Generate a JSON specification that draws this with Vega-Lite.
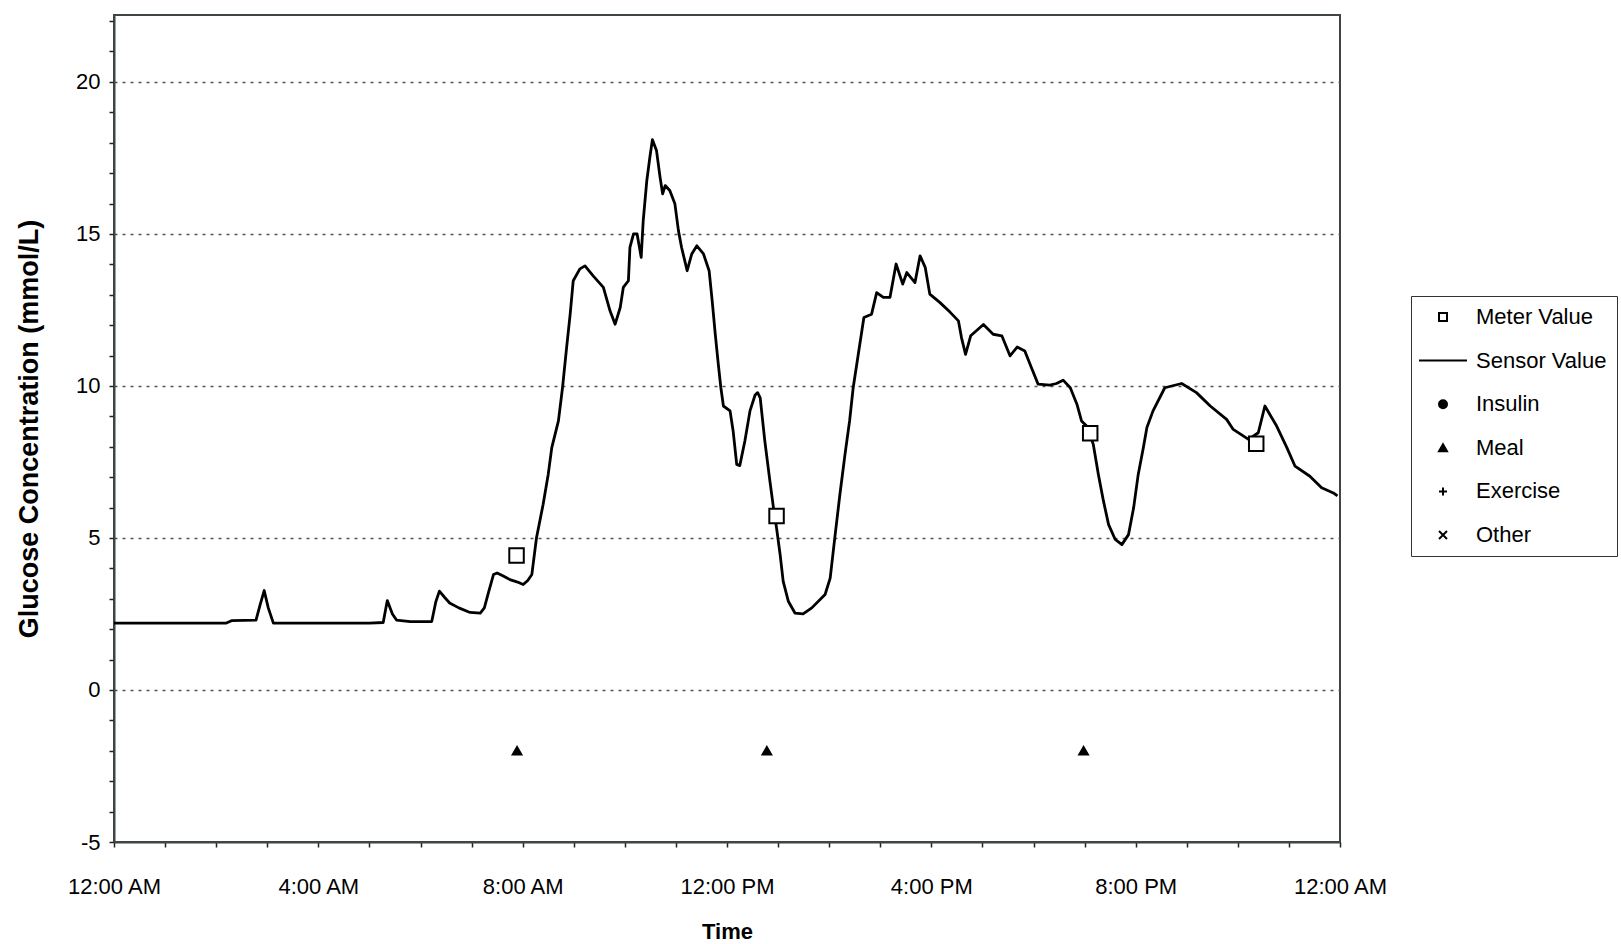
{
  "$schema": "https://vega.github.io/schema/vega-lite/v6.json",
  "width": 1226,
  "height": 827,
  "autosize": "none",
  "padding": {"left": 114, "top": 15, "right": 281, "bottom": 102},
  "background": "white",
  "config": {
    "font": "Liberation Sans",
    "view": {"stroke": "#3f453f", "strokeWidth": 2, "fill": "white"},
    "axis": {
      "labelFont": "Liberation Sans",
      "titleFont": "Liberation Sans",
      "labelColor": "black",
      "titleColor": "black",
      "domainColor": "#3f453f",
      "domainWidth": 2,
      "tickColor": "#222222",
      "tickWidth": 1.5
    }
  },
  "datasets": {
    "sensor": [
      {"hour": 0, "glucose": 2.2}, {"hour": 1.0, "glucose": 2.2}, {"hour": 2.2, "glucose": 2.2},
      {"hour": 2.3, "glucose": 2.28}, {"hour": 2.78, "glucose": 2.3}, {"hour": 2.86, "glucose": 2.8},
      {"hour": 2.94, "glucose": 3.27}, {"hour": 3.02, "glucose": 2.7}, {"hour": 3.12, "glucose": 2.2},
      {"hour": 4.0, "glucose": 2.2}, {"hour": 5.0, "glucose": 2.2}, {"hour": 5.27, "glucose": 2.22},
      {"hour": 5.35, "glucose": 2.94}, {"hour": 5.45, "glucose": 2.5}, {"hour": 5.53, "glucose": 2.3},
      {"hour": 5.8, "glucose": 2.25}, {"hour": 6.22, "glucose": 2.25}, {"hour": 6.3, "glucose": 2.9},
      {"hour": 6.37, "glucose": 3.25}, {"hour": 6.47, "glucose": 3.05}, {"hour": 6.57, "glucose": 2.86},
      {"hour": 6.75, "glucose": 2.7}, {"hour": 6.97, "glucose": 2.55}, {"hour": 7.17, "glucose": 2.53},
      {"hour": 7.25, "glucose": 2.7}, {"hour": 7.33, "glucose": 3.2}, {"hour": 7.43, "glucose": 3.8},
      {"hour": 7.5, "glucose": 3.85}, {"hour": 7.62, "glucose": 3.75}, {"hour": 7.75, "glucose": 3.63},
      {"hour": 7.9, "glucose": 3.55}, {"hour": 8.01, "glucose": 3.47}, {"hour": 8.1, "glucose": 3.6},
      {"hour": 8.18, "glucose": 3.8}, {"hour": 8.27, "glucose": 5.0}, {"hour": 8.4, "glucose": 6.1},
      {"hour": 8.5, "glucose": 7.09}, {"hour": 8.57, "glucose": 7.97}, {"hour": 8.7, "glucose": 8.85},
      {"hour": 8.78, "glucose": 9.94}, {"hour": 8.86, "glucose": 11.26}, {"hour": 8.93, "glucose": 12.36},
      {"hour": 8.99, "glucose": 13.46}, {"hour": 9.12, "glucose": 13.85}, {"hour": 9.22, "glucose": 13.95},
      {"hour": 9.38, "glucose": 13.62}, {"hour": 9.58, "glucose": 13.24}, {"hour": 9.71, "glucose": 12.47},
      {"hour": 9.81, "glucose": 12.03}, {"hour": 9.91, "glucose": 12.58}, {"hour": 9.97, "glucose": 13.24},
      {"hour": 10.07, "glucose": 13.46}, {"hour": 10.1, "glucose": 14.56}, {"hour": 10.17, "glucose": 15.0},
      {"hour": 10.24, "glucose": 15.0}, {"hour": 10.32, "glucose": 14.23}, {"hour": 10.36, "glucose": 15.44},
      {"hour": 10.43, "glucose": 16.75}, {"hour": 10.49, "glucose": 17.52}, {"hour": 10.54, "glucose": 18.1},
      {"hour": 10.62, "glucose": 17.74}, {"hour": 10.69, "glucose": 16.86}, {"hour": 10.74, "glucose": 16.32},
      {"hour": 10.79, "glucose": 16.59}, {"hour": 10.88, "glucose": 16.43}, {"hour": 10.98, "glucose": 15.99},
      {"hour": 11.05, "glucose": 15.1}, {"hour": 11.11, "glucose": 14.56}, {"hour": 11.22, "glucose": 13.79},
      {"hour": 11.31, "glucose": 14.34}, {"hour": 11.41, "glucose": 14.61}, {"hour": 11.54, "glucose": 14.34},
      {"hour": 11.65, "glucose": 13.79}, {"hour": 11.71, "glucose": 12.8}, {"hour": 11.77, "glucose": 11.7},
      {"hour": 11.83, "glucose": 10.71}, {"hour": 11.88, "glucose": 9.94}, {"hour": 11.93, "glucose": 9.34},
      {"hour": 12.06, "glucose": 9.18}, {"hour": 12.12, "glucose": 8.52}, {"hour": 12.19, "glucose": 7.42},
      {"hour": 12.25, "glucose": 7.38}, {"hour": 12.35, "glucose": 8.19}, {"hour": 12.45, "glucose": 9.18},
      {"hour": 12.55, "glucose": 9.7}, {"hour": 12.6, "glucose": 9.78}, {"hour": 12.65, "glucose": 9.61},
      {"hour": 12.74, "glucose": 8.19}, {"hour": 12.84, "glucose": 6.87}, {"hour": 12.91, "glucose": 5.99},
      {"hour": 12.97, "glucose": 5.33}, {"hour": 13.04, "glucose": 4.45}, {"hour": 13.1, "glucose": 3.57},
      {"hour": 13.2, "glucose": 2.92}, {"hour": 13.33, "glucose": 2.53}, {"hour": 13.49, "glucose": 2.5},
      {"hour": 13.66, "glucose": 2.7}, {"hour": 13.92, "glucose": 3.14}, {"hour": 14.02, "glucose": 3.68},
      {"hour": 14.11, "glucose": 5.0}, {"hour": 14.21, "glucose": 6.43}, {"hour": 14.31, "glucose": 7.75},
      {"hour": 14.4, "glucose": 8.85}, {"hour": 14.47, "glucose": 9.94}, {"hour": 14.57, "glucose": 11.04},
      {"hour": 14.68, "glucose": 12.25}, {"hour": 14.83, "glucose": 12.36}, {"hour": 14.93, "glucose": 13.07},
      {"hour": 15.06, "glucose": 12.91}, {"hour": 15.19, "glucose": 12.91}, {"hour": 15.31, "glucose": 14.01},
      {"hour": 15.44, "glucose": 13.35}, {"hour": 15.52, "glucose": 13.73}, {"hour": 15.68, "glucose": 13.4},
      {"hour": 15.78, "glucose": 14.28}, {"hour": 15.88, "glucose": 13.9}, {"hour": 15.97, "glucose": 13.02},
      {"hour": 16.17, "glucose": 12.74}, {"hour": 16.37, "glucose": 12.42}, {"hour": 16.53, "glucose": 12.14},
      {"hour": 16.59, "glucose": 11.59}, {"hour": 16.67, "glucose": 11.04}, {"hour": 16.77, "glucose": 11.65},
      {"hour": 17.02, "glucose": 12.02}, {"hour": 17.21, "glucose": 11.7}, {"hour": 17.38, "glucose": 11.65},
      {"hour": 17.54, "glucose": 10.99}, {"hour": 17.68, "glucose": 11.28}, {"hour": 17.83, "glucose": 11.15},
      {"hour": 17.96, "glucose": 10.6}, {"hour": 18.09, "glucose": 10.06}, {"hour": 18.32, "glucose": 10.03},
      {"hour": 18.45, "glucose": 10.08}, {"hour": 18.58, "glucose": 10.19}, {"hour": 18.72, "glucose": 9.94},
      {"hour": 18.85, "glucose": 9.4}, {"hour": 18.94, "glucose": 8.85}, {"hour": 19.04, "glucose": 8.68},
      {"hour": 19.17, "glucose": 8.08}, {"hour": 19.27, "glucose": 7.09}, {"hour": 19.37, "glucose": 6.21},
      {"hour": 19.47, "glucose": 5.44}, {"hour": 19.6, "glucose": 4.95}, {"hour": 19.73, "glucose": 4.78},
      {"hour": 19.86, "glucose": 5.11}, {"hour": 19.96, "glucose": 5.99}, {"hour": 20.05, "glucose": 7.09},
      {"hour": 20.15, "glucose": 7.97}, {"hour": 20.22, "glucose": 8.63}, {"hour": 20.34, "glucose": 9.18},
      {"hour": 20.57, "glucose": 9.94}, {"hour": 20.9, "glucose": 10.08}, {"hour": 21.19, "glucose": 9.78},
      {"hour": 21.46, "glucose": 9.34}, {"hour": 21.78, "glucose": 8.9}, {"hour": 21.91, "glucose": 8.57},
      {"hour": 22.21, "glucose": 8.24}, {"hour": 22.4, "glucose": 8.46}, {"hour": 22.53, "glucose": 9.34},
      {"hour": 22.76, "glucose": 8.68}, {"hour": 22.96, "glucose": 7.97}, {"hour": 23.12, "glucose": 7.36},
      {"hour": 23.41, "glucose": 7.03}, {"hour": 23.64, "glucose": 6.65}, {"hour": 23.87, "glucose": 6.48},
      {"hour": 23.95, "glucose": 6.38}
    ],
    "events": [
      {"hour": 7.88, "glucose": 4.42, "type": "Meter Value"},
      {"hour": 12.97, "glucose": 5.72, "type": "Meter Value"},
      {"hour": 19.11, "glucose": 8.44, "type": "Meter Value"},
      {"hour": 22.36, "glucose": 8.1, "type": "Meter Value"},
      {"hour": 7.89, "glucose": -2, "type": "Meal"},
      {"hour": 12.78, "glucose": -2, "type": "Meal"},
      {"hour": 18.98, "glucose": -2, "type": "Meal"}
    ]
  },
  "encoding": {
    "x": {
      "field": "hour", "type": "quantitative",
      "scale": {"domain": [0, 24], "nice": false, "zero": false},
      "axis": {
        "title": "Time",
        "titleFontSize": 22,
        "titleFontWeight": "bold",
        "titlePadding": 24,
        "values": [0,1,2,3,4,5,6,7,8,9,10,11,12,13,14,15,16,17,18,19,20,21,22,23,24],
        "labelExpr": "datum.value % 4 !== 0 ? '' : (datum.value % 24 === 0 ? '12:00 AM' : (datum.value === 12 ? '12:00 PM' : (datum.value < 12 ? datum.value + ':00 AM' : (datum.value - 12) + ':00 PM')))",
        "labelFontSize": 22,
        "labelPadding": 29,
        "labelOverlap": false,
        "labelFlush": false,
        "tickSize": 5,
        "grid": false
      }
    },
    "y": {
      "field": "glucose", "type": "quantitative",
      "scale": {"domain": [-5, 22.2], "nice": false, "zero": false},
      "axis": {
        "title": "Glucose Concentration (mmol/L)",
        "titleFontSize": 27,
        "titleFontWeight": "bold",
        "titlePadding": 32,
        "values": [-5,-4,-3,-2,-1,0,1,2,3,4,5,6,7,8,9,10,11,12,13,14,15,16,17,18,19,20,21,22],
        "labelExpr": "(datum.value % 5 === 0) ? ('' + datum.value) : ''",
        "labelFontSize": 22,
        "labelPadding": 9,
        "labelOverlap": false,
        "labelFlush": false,
        "labelBound": false,
        "tickSize": 5,
        "grid": true,
        "gridColor": "#555555",
        "gridWidth": 1.5,
        "gridDash": [3, 5],
        "gridOpacity": {"condition": {"test": "(datum.value % 5 === 0) && (datum.value > -5)", "value": 1}, "value": 0}
      }
    }
  },
  "layer": [
    {
      "data": {"name": "sensor"},
      "mark": {"type": "line", "color": "black", "strokeWidth": 2.8, "strokeJoin": "round"}
    },
    {
      "data": {"name": "events"},
      "mark": {"type": "point", "strokeWidth": 2, "opacity": 1},
      "encoding": {
        "size": {"condition": {"test": "datum.type === 'Meal'", "value": 75}, "value": 210},
        "shape": {
          "field": "type", "type": "nominal",
          "scale": {
            "domain": ["Meter Value", "Sensor Value", "Insulin", "Meal", "Exercise", "Other"],
            "range": ["square", "M-6,0H6", "circle", "triangle-up", "M-1,0H1M0,-1V1", "M-1,-1L1,1M-1,1L1,-1"]
          },
          "legend": {
            "title": null, "orient": "none", "legendX": 1297, "legendY": 281,
            "labelFont": "Liberation Sans", "labelFontSize": 22, "labelColor": "black",
            "symbolSize": 64, "symbolStrokeWidth": 2,
            "rowPadding": 21.6, "padding": 10, "symbolOffset": 11, "labelOffset": 22,
            "strokeColor": "#333333", "fillColor": "white",
            "encode": {"legend": {"update": {"strokeWidth": {"value": 2}}}}
          }
        },
        "fill": {
          "field": "type", "type": "nominal",
          "scale": {
            "domain": ["Meter Value", "Sensor Value", "Insulin", "Meal", "Exercise", "Other"],
            "range": ["white", "transparent", "black", "black", "transparent", "transparent"]
          },
          "legend": {
            "title": null, "orient": "none", "legendX": 1297, "legendY": 281,
            "labelFont": "Liberation Sans", "labelFontSize": 22, "labelColor": "black",
            "symbolSize": 64, "symbolStrokeWidth": 2,
            "rowPadding": 21.6, "padding": 10, "symbolOffset": 11, "labelOffset": 22,
            "strokeColor": "#333333", "fillColor": "white",
            "encode": {"legend": {"update": {"strokeWidth": {"value": 2}}}}
          }
        },
        "stroke": {
          "field": "type", "type": "nominal",
          "scale": {
            "domain": ["Meter Value", "Sensor Value", "Insulin", "Meal", "Exercise", "Other"],
            "range": ["black", "black", "black", "black", "black", "black"]
          },
          "legend": {
            "title": null, "orient": "none", "legendX": 1297, "legendY": 281,
            "labelFont": "Liberation Sans", "labelFontSize": 22, "labelColor": "black",
            "symbolSize": 64, "symbolStrokeWidth": 2,
            "rowPadding": 21.6, "padding": 10, "symbolOffset": 11, "labelOffset": 22,
            "strokeColor": "#333333", "fillColor": "white",
            "encode": {"legend": {"update": {"strokeWidth": {"value": 2}}}}
          }
        }
      }
    }
  ]
}
